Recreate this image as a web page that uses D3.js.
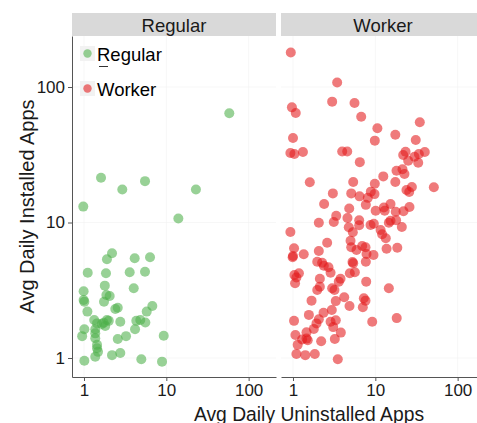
<!DOCTYPE html>
<html>
<head>
<meta charset="utf-8">
<script src="https://cdn.jsdelivr.net/npm/d3@7"></script>
<style>
  body { margin: 0; background: #fff; }
  svg { display: block; }
  text { font-family: "Liberation Sans", Arial, Helvetica, sans-serif; }
</style>
</head>
<body>
<svg id="chart" width="477" height="423"></svg>
<script>
// Facets, colours and shared log ticks
const groups = ["Regular", "Worker"];
const groupColors = ["#4DAF4A", "#E41A1C"];
const tickValues = [1, 10, 100];
const tickLabels = ["1", "10", "100"];
const xLimits = [0.715, 215];
const yLimits = [0.724, 238];

// Regular users: avg daily uninstalled (x) vs installed (y) apps
const regularUninstalled = [58.2, 1.61, 2.92, 5.51, 22.9, 0.98, 14.0, 2.19, 1.90, 4.13, 6.34, 1.11, 1.85, 3.59, 5.51,
  1.79, 4.02, 0.99, 0.99, 1.01, 1.87, 2.05, 1.75, 1.10, 2.40, 2.57, 6.76, 5.78, 1.33, 1.44, 1.73, 1.90, 2.00, 1.81,
  1.65, 2.76, 4.32, 4.83, 5.56, 1.01, 1.37, 4.17, 0.95, 1.37, 1.37, 2.57, 3.24, 9.30, 1.44, 1.44, 1.48, 1.37, 2.19,
  2.76, 1.01, 4.97, 8.87];
const regularInstalled = [64.0, 21.4, 17.5, 20.2, 17.5, 13.1, 10.7, 5.93, 5.35, 5.44, 5.54, 4.26, 4.22, 4.29, 4.33,
  3.42, 3.27, 3.11, 2.68, 2.60, 2.92, 2.87, 2.60, 2.20, 2.30, 2.35, 2.42, 2.20, 1.91, 1.80, 1.82, 1.91, 1.88, 1.72,
  1.78, 1.85, 1.88, 1.91, 1.83, 1.63, 1.63, 1.63, 1.45, 1.52, 1.40, 1.38, 1.45, 1.46, 1.25, 1.18, 1.11, 1.02, 1.05,
  1.09, 0.955, 0.98, 0.94];

// Worker users
const workerUninstalled = [0.94, 3.44, 2.99, 5.59, 0.97, 1.08, 6.74, 34.7, 10.6, 17.5, 9.86, 31.0, 1.0, 0.93, 1.04,
  1.32, 3.96, 4.56, 21.8, 23.3, 33.8, 39.9, 6.48, 25.1, 29.9, 33.2, 1.60, 5.39, 12.5, 9.86, 17.5, 18.1, 21.4, 22.6,
  51.4, 23.9, 25.8, 27.8, 3.05, 5.10, 6.43, 8.82, 9.78, 8.11, 2.39, 4.82, 7.67, 10.1, 12.7, 13.0, 15.3, 17.7, 22.0,
  26.0, 3.35, 3.13, 2.06, 4.59, 6.37, 6.37, 8.75, 9.59, 14.6, 15.3, 17.9, 21.0, 0.93, 4.76, 5.33, 11.6, 12.1, 13.4,
  13.7, 2.60, 5.00, 5.10, 5.91, 6.93, 7.60, 18.5, 1.03, 1.0, 0.99, 1.35, 2.06, 7.82, 9.51, 1.97, 2.26, 2.37, 2.70,
  2.86, 5.28, 5.39, 7.67, 1.04, 1.18, 1.06, 1.10, 2.12, 4.90, 5.64, 3.78, 3.60, 7.75, 2.12, 1.97, 2.99, 3.19, 14.6,
  1.68, 3.31, 4.19, 4.86, 7.25, 7.60, 7.05, 2.96, 2.35, 1.56, 1.03, 2.06, 1.93, 2.86, 3.31, 3.08, 9.17, 18.2, 1.79,
  3.81, 1.07, 1.46, 1.29, 1.46, 1.51, 2.20, 3.22, 1.14, 1.10, 1.41, 1.84, 3.50];
const workerInstalled = [180, 108, 78, 76.2, 70.8, 64.3, 60.4, 54.9, 49.6, 44.5, 40.2, 40.6, 42.0, 32.6, 32.0, 33.1,
  33.4, 33.4, 31.5, 33.3, 32.0, 33.1, 27.9, 28.6, 30.6, 27.6, 19.8, 19.9, 21.9, 19.3, 19.9, 24.1, 24.7, 22.8, 18.2,
  17.4, 16.8, 18.3, 16.4, 16.4, 15.6, 16.9, 16.2, 15.2, 13.7, 12.7, 13.5, 12.2, 12.9, 12.2, 13.7, 12.0, 12.1, 13.0,
  11.2, 10.1, 9.97, 10.8, 10.4, 9.54, 9.59, 9.80, 9.97, 10.3, 10.4, 9.26, 8.51, 9.22, 8.47, 8.81, 8.18, 7.65, 6.41,
  7.10, 7.34, 6.56, 6.27, 6.71, 6.56, 6.52, 6.45, 5.66, 5.54, 5.83, 6.16, 5.86, 5.76, 5.14, 5.05, 4.80, 4.67, 4.26,
  5.11, 5.00, 5.14, 4.10, 4.22, 3.56, 3.93, 3.85, 4.22, 4.29, 3.85, 3.66, 3.66, 3.36, 3.18, 3.27, 3.18, 3.27, 2.65,
  2.63, 2.81, 2.42, 2.76, 2.65, 2.37, 2.26, 2.16, 2.08, 1.88, 1.93, 1.80, 1.85, 1.90, 1.69, 1.85, 1.97, 1.64, 1.54,
  1.48, 1.55, 1.37, 1.39, 1.35, 1.33, 1.38, 1.25, 1.07, 1.05, 1.07, 0.98];

// One point list per facet, in the order of `groups`
const series = [
  regularUninstalled.map((x, j) => ({ x, y: regularInstalled[j] })),
  workerUninstalled.map((x, j) => ({ x, y: workerInstalled[j] }))
];

const svg = d3.select("#chart");
const panelLeft = [72, 281];
const panelW = 204;
const plotTop = 36, plotBottom = 377;
const axisColor = "#555";
const textColor = "#1a1a1a";

const y = d3.scaleLog().domain(yLimits).range([plotBottom, plotTop]);

groups.forEach((g, i) => {
  const x0 = panelLeft[i];
  const x = d3.scaleLog().domain(xLimits).range([x0, x0 + panelW]);
  const panel = svg.append("g");

  // faint major grid
  panel.selectAll("line.gx").data(tickValues).join("line")
    .attr("x1", d => x(d)).attr("x2", d => x(d))
    .attr("y1", plotTop).attr("y2", plotBottom)
    .attr("stroke", "#f2f2f2").attr("stroke-width", 0.6);
  panel.selectAll("line.gy").data(tickValues).join("line")
    .attr("x1", x0).attr("x2", x0 + panelW)
    .attr("y1", d => y(d)).attr("y2", d => y(d))
    .attr("stroke", "#f2f2f2").attr("stroke-width", 0.6);

  // facet strip
  panel.append("rect")
    .attr("x", x0).attr("y", 13).attr("width", panelW).attr("height", plotTop - 13)
    .attr("fill", "#D9D9D9");
  panel.append("text")
    .attr("x", x0 + panelW / 2).attr("y", 32)
    .attr("text-anchor", "middle")
    .attr("font-size", 18.5).attr("fill", textColor)
    .text(g);

  // x axis
  const xAxis = d3.axisBottom(x).tickValues(tickValues)
    .tickFormat((d, k) => tickLabels[k]).tickSizeInner(4).tickSizeOuter(0).tickPadding(3);
  const gx = panel.append("g").attr("transform", `translate(0,${plotBottom})`).call(xAxis);
  gx.select(".domain").attr("stroke", axisColor).attr("stroke-width", 1);
  gx.selectAll(".tick line").attr("stroke", axisColor);
  gx.selectAll(".tick text").attr("font-size", 17).attr("fill", textColor)
    .attr("font-family", "'Liberation Sans', Arial, sans-serif");

  // points
  panel.append("g").selectAll("circle").data(series[i]).join("circle")
    .attr("cx", d => x(d.x)).attr("cy", d => y(d.y)).attr("r", 5)
    .attr("fill", groupColors[i]).attr("fill-opacity", 0.58);
});

// y axis on the first panel
const yAxis = d3.axisLeft(y).tickValues(tickValues)
  .tickFormat((d, k) => tickLabels[k]).tickSizeInner(4).tickSizeOuter(0).tickPadding(3);
const gy = svg.append("g").attr("transform", `translate(${panelLeft[0]},0)`).call(yAxis);
gy.select(".domain").attr("stroke", axisColor).attr("stroke-width", 1);
gy.selectAll(".tick line").attr("stroke", axisColor);
gy.selectAll(".tick text").attr("font-size", 17).attr("fill", textColor)
  .attr("font-family", "'Liberation Sans', Arial, sans-serif");

// legend inside the first panel
const legend = svg.append("g");
groups.forEach((g, i) => {
  const cy = 53.5 + i * 35;
  legend.append("rect").attr("x", 80).attr("y", cy - 7.5).attr("width", 15).attr("height", 15)
    .attr("fill", "#f2f2f2");
  legend.append("circle").attr("cx", 87.5).attr("cy", cy).attr("r", 4.2)
    .attr("fill", groupColors[i]).attr("fill-opacity", 0.58);
  legend.append("text").attr("x", 97).attr("y", cy + 7)
    .attr("font-size", 18.5).attr("fill", "#000").text(g);
});
legend.append("line").attr("x1", 99).attr("x2", 108).attr("y1", 66.5).attr("y2", 66.5)
  .attr("stroke", "#333").attr("stroke-width", 1);

// axis titles
svg.append("text")
  .attr("x", 309).attr("y", 420.5).attr("text-anchor", "middle")
  .attr("font-size", 19.3).attr("fill", textColor)
  .text("Avg Daily Uninstalled Apps");
svg.append("text")
  .attr("transform", `translate(34,${(plotTop + plotBottom) / 2}) rotate(-90)`)
  .attr("text-anchor", "middle")
  .attr("font-size", 20).attr("fill", textColor)
  .text("Avg Daily Installed Apps");
</script>
</body>
</html>
